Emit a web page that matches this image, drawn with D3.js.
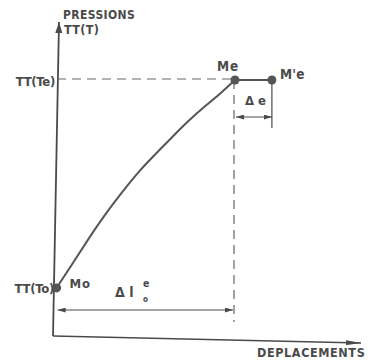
<!DOCTYPE html>
<html>
<head>
<meta charset="utf-8">
<script src="https://cdn.jsdelivr.net/npm/d3@7"></script>
<style>
  body { margin: 0; background: #fff; }
  svg { display: block; }
  text { font-family: "Liberation Sans Narrow", "DejaVu Sans Condensed", "Roboto", sans-serif; fill: #4a4a4a; font-weight: bold; }
</style>
</head>
<body>
<script>
(function(){

    //curve from Mo to Me (displacement, pressure)
    var curveX = [0.9, 9.3, 18.3, 27.8, 37.2, 46.1, 55.6, 65, 73.9, 83.3, 92.8, 100];
    var curveY = [19.1, 28.1, 37.9, 47.7, 56.3, 64.1, 71.1, 77.7, 84, 89.8, 95.3, 100];

    //named points
    var pointNames = ["Mo", "Me", "M'e"];
    var pointX = [0.9, 100, 120.5];
    var pointY = [19.1, 100, 100];

    //dimension levels
    var deltaLY = 10.5,   //level of the Δl arrow
        deltaEY = 85.6,   //level of the Δe arrow
        dashBottom = 5.8, //end of the dashed drop line
        tickBottom = 81.3; //end of the M'e drop line

    var width = 375, height = 364;

    var svg = d3.select("body").append("svg")
        .attr("width", width)
        .attr("height", height);

    var x = d3.scaleLinear().domain([0, 100]).range([55, 235]);
    var y = d3.scaleLinear().domain([0, 100]).range([337, 80]);

    var ink = "#4a4a4a";

    //arrow markers
    var defs = svg.append("defs");
    function marker(id, len, half){
        defs.append("marker")
            .attr("id", id)
            .attr("viewBox", "0 " + (-half) + " " + len + " " + (2 * half))
            .attr("refX", len)
            .attr("refY", 0)
            .attr("markerUnits", "userSpaceOnUse")
            .attr("markerWidth", len)
            .attr("markerHeight", 2 * half)
            .attr("orient", "auto-start-reverse")
            .append("path")
            .attr("d", "M0," + (-half) + "L" + len + ",0L0," + half + "Z")
            .attr("fill", ink);
    }
    marker("arrY", 11, 3.5);
    marker("arrX", 15, 2.5);
    marker("arrD", 8, 2.5);

    //axes (scan is slightly skewed)
    svg.append("path")
        .attr("d", "M53,336L59,22")
        .attr("stroke", ink).attr("stroke-width", 1.8).attr("fill", "none")
        .attr("marker-end", "url(#arrY)");
    svg.append("path")
        .attr("d", "M53,336L361,343")
        .attr("stroke", ink).attr("stroke-width", 1.6).attr("fill", "none")
        .attr("marker-end", "url(#arrX)");

    //dashed guides
    svg.append("line")
        .attr("x1", 57).attr("x2", x(pointX[1]))
        .attr("y1", y(pointY[1]) - 1).attr("y2", y(pointY[1]) - 1)
        .attr("stroke", "#666").attr("stroke-width", 1.2)
        .attr("stroke-dasharray", "9,6");
    svg.append("line")
        .attr("x1", x(pointX[1]) - 1).attr("x2", x(pointX[1]) - 1)
        .attr("y1", y(pointY[1])).attr("y2", y(dashBottom))
        .attr("stroke", "#666").attr("stroke-width", 1.2)
        .attr("stroke-dasharray", "9,6");

    //curve
    var line = d3.line()
        .x(function(d){ return x(d[0]); })
        .y(function(d){ return y(d[1]); })
        .curve(d3.curveBasis);
    svg.append("path")
        .datum(curveX.map(function(v, i){ return [v, curveY[i]]; }))
        .attr("d", line)
        .attr("fill", "none")
        .attr("stroke", "#555")
        .attr("stroke-width", 2);

    //plateau Me - M'e
    svg.append("line")
        .attr("x1", x(pointX[1])).attr("x2", x(pointX[2]))
        .attr("y1", y(pointY[1])).attr("y2", y(pointY[2]))
        .attr("stroke", "#555").attr("stroke-width", 2.2);

    //M'e drop line
    svg.append("line")
        .attr("x1", x(pointX[2])).attr("x2", x(pointX[2]))
        .attr("y1", y(pointY[2])).attr("y2", y(tickBottom))
        .attr("stroke", ink).attr("stroke-width", 1.2);

    //dimension arrows
    svg.append("line")
        .attr("x1", x(pointX[0]) + 1).attr("x2", x(pointX[1]) - 2)
        .attr("y1", y(deltaLY)).attr("y2", y(deltaLY))
        .attr("stroke", ink).attr("stroke-width", 1)
        .attr("marker-start", "url(#arrD)")
        .attr("marker-end", "url(#arrD)");
    svg.append("line")
        .attr("x1", x(pointX[1]) + 1).attr("x2", x(pointX[2]))
        .attr("y1", y(deltaEY)).attr("y2", y(deltaEY))
        .attr("stroke", ink).attr("stroke-width", 1)
        .attr("marker-start", "url(#arrD)")
        .attr("marker-end", "url(#arrD)");

    //points
    svg.selectAll(".pt")
        .data(pointNames)
        .enter()
        .append("circle")
        .attr("class", "pt")
        .attr("cx", function(d, i){ return x(pointX[i]); })
        .attr("cy", function(d, i){ return y(pointY[i]); })
        .attr("r", 4.5)
        .attr("fill", "#555");

    //labels
    function label(txt, lx, ly, size, anchor, spacing){
        return svg.append("text")
            .attr("x", lx).attr("y", ly)
            .attr("font-size", size)
            .attr("text-anchor", anchor || "start")
            .attr("letter-spacing", spacing || 0)
            .text(txt);
    }
    label("PRESSIONS", 63, 19, 12, "start", 0.4);
    label("TT(T)", 64, 33.5, 12.5, "start", 0.3);
    label("TT(Te)", 55, 86, 13, "end", -0.3);
    label("TT(To)", 54, 293, 13, "end", -0.3);
    label(pointNames[0], x(pointX[0]) + 13, y(pointY[0]), 13, "start", 0.8);
    label(pointNames[1], x(pointX[1]) - 18, y(pointY[1]) - 9, 13.5, "start", 1);
    label(pointNames[2], x(pointX[2]) + 8, y(pointY[2]) - 1, 13.5, "start", 0.3);
    label("Δ e", 245, 105, 13, "start", 0);
    label("Δ l", 115, 297, 14, "start", 0);
    label("e", 143, 287, 10.5, "start", 0);
    label("o", 143, 302, 8, "start", 0);
    label("DEPLACEMENTS", 257, 357, 12.5, "start", 0.6);

})();
</script>
</body>
</html>
